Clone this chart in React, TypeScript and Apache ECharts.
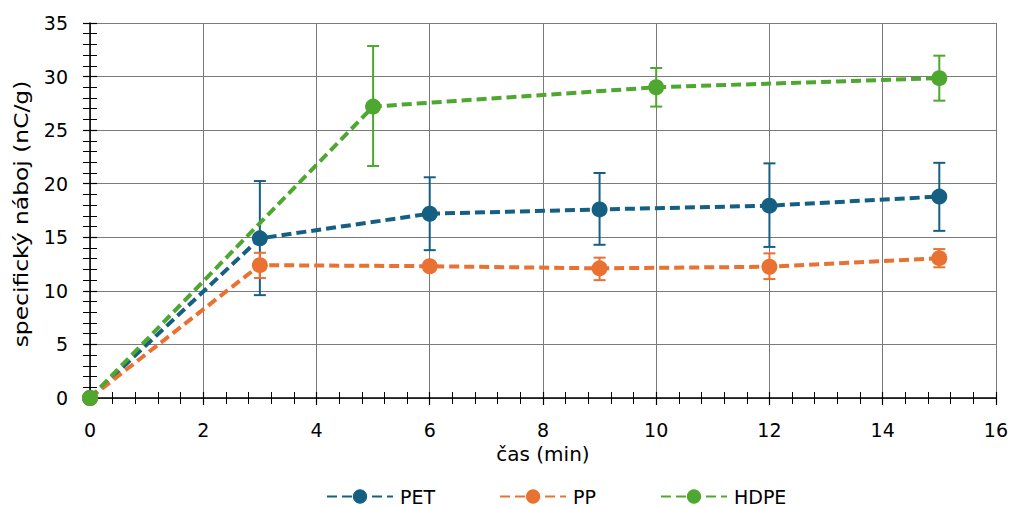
import React, { useEffect, useRef } from "react";
import * as echarts from "echarts";

const petX = [0, 3, 6, 9, 12, 15];
const petY = [0, 14.9, 17.2, 17.6, 17.95, 18.8];
const petLow = [0, 9.6, 13.8, 14.3, 14.1, 15.6];
const petHigh = [0, 20.25, 20.6, 21.0, 21.9, 21.95];

const ppX = [0, 3, 6, 9, 12, 15];
const ppY = [0, 12.4, 12.3, 12.1, 12.25, 13.05];
const ppLow = [0, 11.2, 12.1, 11.0, 11.1, 12.2];
const ppHigh = [0, 13.55, 12.5, 13.1, 13.5, 13.9];

const hdpeX = [0, 5, 10, 15];
const hdpeY = [0, 27.2, 29.0, 29.85];
const hdpeLow = [0, 21.65, 27.2, 27.75];
const hdpeHigh = [0, 32.85, 30.8, 31.95];

const xName = "čas (min)";
const yName = "specifický náboj (nC/g)";

const COLORS = { PET: "#156082", PP: "#E97132", HDPE: "#4EA72E" };
const FONT = "DejaVu Sans";

function pts(xs: number[], ys: number[]) {
  return xs.map((x, i) => [x, ys[i]]);
}
function errs(xs: number[], lo: number[], hi: number[]) {
  return xs.map((x, i) => [x, lo[i], hi[i]]).filter((d) => d[2] - d[1] > 0);
}

function errorSeries(name: string, data: number[][], color: string, width: number) {
  return {
    type: "custom",
    name: name + "-err",
    xAxisIndex: 0,
    yAxisIndex: 0,
    z: 1,
    silent: true,
    data,
    renderItem: (params: any, api: any) => {
      const x = api.value(0);
      const lo = api.coord([x, api.value(1)]);
      const hi = api.coord([x, api.value(2)]);
      const cap = 6;
      const style = { stroke: color, lineWidth: width };
      return {
        type: "group",
        children: [
          { type: "line", shape: { x1: lo[0], y1: lo[1], x2: hi[0], y2: hi[1] }, style },
          { type: "line", shape: { x1: hi[0] - cap, y1: hi[1], x2: hi[0] + cap, y2: hi[1] }, style },
          { type: "line", shape: { x1: lo[0] - cap, y1: lo[1], x2: lo[0] + cap, y2: lo[1] }, style },
        ],
      };
    },
  };
}

function lineSeries(name: string, data: number[][], color: string) {
  return {
    type: "line",
    name,
    data,
    xAxisIndex: 0,
    yAxisIndex: 0,
    z: 3,
    symbol: "circle",
    symbolSize: 16,
    itemStyle: { color },
    lineStyle: { color, width: 4, type: [10, 5] },
  };
}

export default function App() {
  const ref = useRef<HTMLDivElement>(null);
  useEffect(() => {
    if (!ref.current) return;
    const chart = echarts.init(ref.current, null, { renderer: "svg" });
    const axisLabel = { color: "#000", fontSize: 19, fontFamily: FONT };
    chart.setOption({
      animation: false,
      backgroundColor: "#fff",
      textStyle: { fontFamily: FONT },
      grid: { left: 90, right: 15, top: 23, bottom: 109, containLabel: false },
      graphic: [
        {
          type: "text",
          x: 21,
          y: 214,
          rotation: Math.PI / 2,
          scaleX: 1.17,
          style: {
            text: yName,
            fill: "#000",
            fontSize: 20,
            fontFamily: FONT,
            align: "center",
            verticalAlign: "middle",
          },
        },
      ],
      xAxis: [
        {
          type: "value",
          min: 0,
          max: 16,
          interval: 2,
          name: xName,
          nameLocation: "middle",
          nameGap: 45,
          nameTextStyle: { color: "#000", fontSize: 20, fontFamily: FONT },
          axisLine: { show: true, onZero: false, lineStyle: { color: "#000", width: 1.5 } },
          axisTick: { show: true, length: 7, lineStyle: { color: "#000", width: 1.2 } },
          minorTick: { show: true, splitNumber: 5, length: 6, lineStyle: { color: "#000", width: 1 } },
          splitLine: { show: true, lineStyle: { color: "#7a7a7a", width: 1 } },
          axisLabel: { ...axisLabel, margin: 22 },
        },
        {
          type: "value",
          min: 0,
          max: 16,
          interval: 2,
          position: "bottom",
          axisLine: { show: false, onZero: false },
          axisTick: { show: true, inside: true, length: 6, lineStyle: { color: "#000", width: 1.2 } },
          minorTick: { show: true, splitNumber: 5, length: 6, lineStyle: { color: "#000", width: 1 } },
          splitLine: { show: false },
          axisLabel: { show: false },
        },
      ],
      yAxis: [
        {
          type: "value",
          min: 0,
          max: 35,
          interval: 5,
          axisLine: { show: true, onZero: false, lineStyle: { color: "#000", width: 1.5 } },
          axisTick: { show: true, length: 7, lineStyle: { color: "#000", width: 1.2 } },
          minorTick: { show: true, splitNumber: 5, length: 7, lineStyle: { color: "#000", width: 1 } },
          splitLine: { show: true, lineStyle: { color: "#7a7a7a", width: 1 } },
          axisLabel: { ...axisLabel, margin: 22 },
        },
        {
          type: "value",
          min: 0,
          max: 35,
          interval: 5,
          position: "left",
          axisLine: { show: false, onZero: false },
          axisTick: { show: true, inside: true, length: 7, lineStyle: { color: "#000", width: 1.2 } },
          minorTick: { show: true, splitNumber: 5, length: 7, lineStyle: { color: "#000", width: 1 } },
          splitLine: { show: false },
          axisLabel: { show: false },
        },
      ],
      legend: {
        top: 487,
        left: 326,
        padding: 0,
        itemWidth: 66,
        itemHeight: 18,
        itemGap: 64,
        data: ["PET", "PP", "HDPE"],
        textStyle: { color: "#000", fontSize: 19, lineHeight: 18, fontFamily: FONT, padding: [0, 0, 0, 2] },
      },
      series: [
        errorSeries("PET", errs(petX, petLow, petHigh), COLORS.PET, 2),
        errorSeries("PP", errs(ppX, ppLow, ppHigh), COLORS.PP, 2),
        errorSeries("HDPE", errs(hdpeX, hdpeLow, hdpeHigh), COLORS.HDPE, 2),
        lineSeries("PET", pts(petX, petY), COLORS.PET),
        lineSeries("PP", pts(ppX, ppY), COLORS.PP),
        lineSeries("HDPE", pts(hdpeX, hdpeY), COLORS.HDPE),
      ],
    });
    return () => chart.dispose();
  }, []);
  return <div ref={ref} style={{ width: 1011, height: 507, position: "absolute", left: 0, top: 0 }} />;
}
